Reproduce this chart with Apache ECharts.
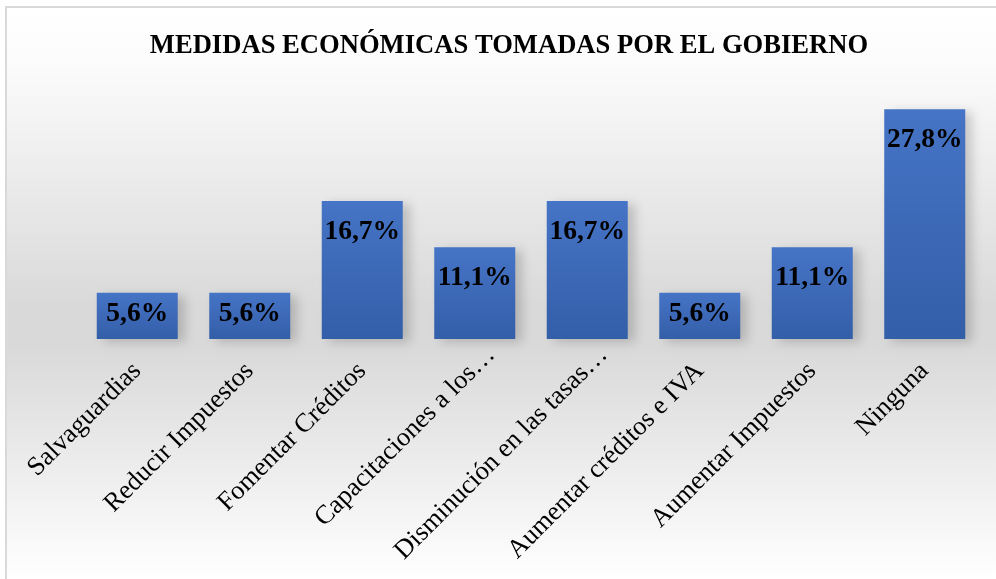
<!DOCTYPE html>
<html>
<head>
<meta charset="utf-8">
<script src="https://cdn.jsdelivr.net/npm/echarts@6/dist/echarts.min.js"></script>
<style>html,body{margin:0;padding:0;background:#fff}#c{width:996px;height:579px}</style>
</head>
<body>
<div id="c"></div>
<script>
const titleText = 'MEDIDAS ECONÓMICAS TOMADAS POR EL GOBIERNO';
const categories = ['Salvaguardias','Reducir Impuestos','Fomentar Créditos','Capacitaciones a los…','Disminución en las tasas…','Aumentar créditos e IVA','Aumentar Impuestos','Ninguna'];
const values = [5.6, 5.6, 16.7, 11.1, 16.7, 5.6, 11.1, 27.8];

const serif = '"Liberation Serif","Times New Roman",serif';
const chart = echarts.init(document.getElementById('c'));
// truncated (ellipsis) labels sit further along their reading direction, as in the source
const axisData = categories.map(c => c.endsWith('…')
  ? { value: c, textStyle: { padding: [0, -23, 0, 0] } }
  : c);
const barData = values.map(v => ({
  value: v,
  label: { distance: v < 8 ? 7 : 17 }
}));
chart.setOption({
  backgroundColor: '#ffffff',
  animation: false,
  graphic: [{
    type: 'rect', z: -10, silent: true,
    shape: { x: 6, y: 7, width: 1000, height: 600 },
    style: {
      fill: { type: 'linear', x: 0, y: 0, x2: 0, y2: 1, colorStops: [
        { offset: 0, color: '#ffffff' },
        { offset: 0.09, color: '#fcfcfc' },
        { offset: 0.50, color: '#d9d9d9' },
        { offset: 0.565, color: '#d9d9d9' },
        { offset: 0.955, color: '#ffffff' },
        { offset: 1, color: '#ffffff' }
      ]},
      stroke: '#d9d9d9', lineWidth: 2
    }
  }],
  title: {
    text: titleText,
    left: 504, top: 28, textAlign: 'center',
    textStyle: { fontFamily: serif, fontWeight: 'bold', fontSize: 26.6, color: '#000' }
  },
  grid: { left: 81, right: 15, top: 91, bottom: 240, containLabel: false, outerBoundsMode: 'none' },
  xAxis: {
    type: 'category', data: axisData,
    axisLine: { show: false }, axisTick: { show: false },
    axisLabel: { rotate: 45, interval: 0, margin: 28, fontFamily: serif, fontSize: 26.5, color: '#000', hideOverlap: false }
  },
  yAxis: { type: 'value', min: 0, max: 30, show: false, splitLine: { show: false } },
  series: [{
    type: 'bar', data: barData, barCategoryGap: '28%',
    itemStyle: {
      color: { type: 'linear', x: 0, y: 0, x2: 0, y2: 1, colorStops: [
        { offset: 0, color: '#4674c6' }, { offset: 1, color: '#335ea8' } ] },
      shadowColor: 'rgba(0,0,0,0.18)', shadowBlur: 10, shadowOffsetX: 7, shadowOffsetY: 3
    },
    label: {
      show: true, position: 'insideTop',
      fontFamily: serif, fontWeight: 'bold', fontSize: 27.5, color: '#000',
      formatter: p => p.value.toFixed(1).replace('.', ',') + '%'
    }
  }]
});
</script>
</body>
</html>
